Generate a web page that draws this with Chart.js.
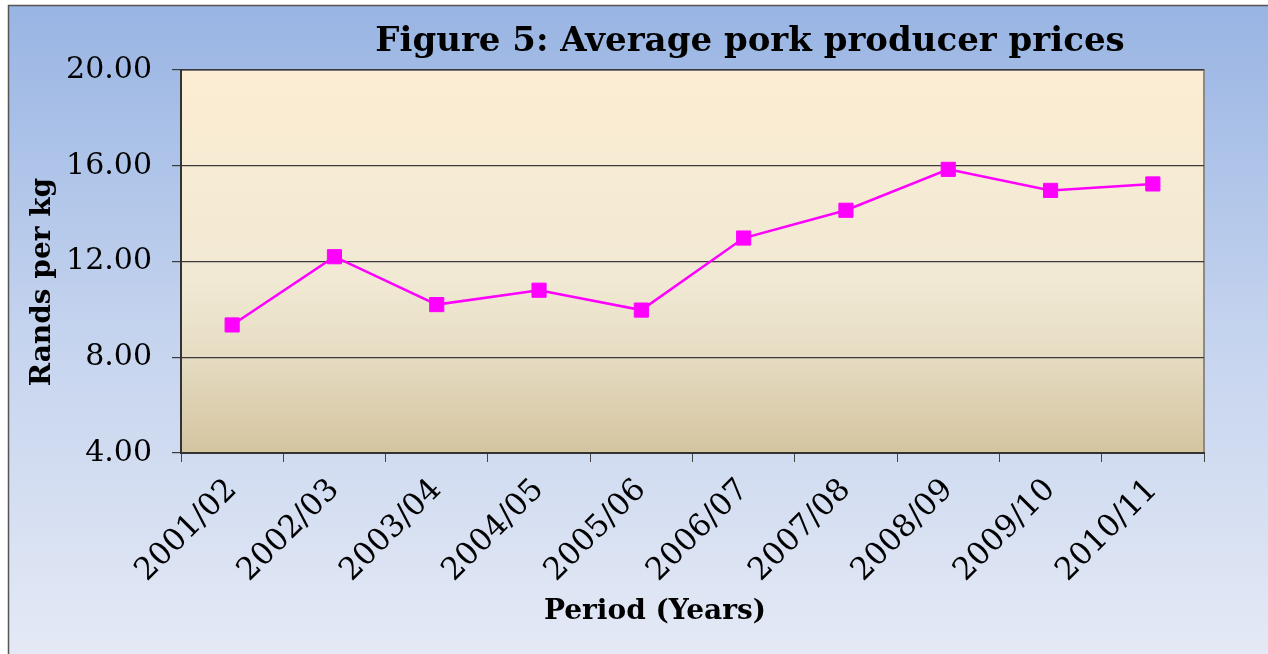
<!DOCTYPE html>
<html>
<head>
<meta charset="utf-8">
<script src="https://cdn.jsdelivr.net/npm/chart.js@4/dist/chart.umd.min.js"></script>
<style>
html,body{margin:0;padding:0;background:#fff;}
#wrap{width:1268px;height:654px;position:relative;}
</style>
</head>
<body>
<div id="wrap"><canvas id="c" width="1268" height="654"></canvas></div>
<script>
const categories = ["2001/02","2002/03","2003/04","2004/05","2005/06","2006/07","2007/08","2008/09","2009/10","2010/11"];
const prices = [9.35, 12.2, 10.2, 10.8, 9.97, 12.98, 14.14, 15.85, 14.97, 15.24];
const yTicks = [4, 8, 12, 16, 20];
const titleText = "Figure 5: Average pork producer prices";
const xTitleText = "Period (Years)";
const yTitleText = "Rands per kg";

const SERIF = '"DejaVu Serif", "Liberation Serif", serif';

const decor = {
  id: 'decor',
  beforeDraw(chart) {
    const ctx = chart.ctx, W = chart.width, H = chart.height;
    ctx.save();
    let g = ctx.createLinearGradient(0, 0, 0, H);
    g.addColorStop(0, '#98b4e3');
    g.addColorStop(0.5, '#c4d3ee');
    g.addColorStop(1, '#e4e9f5');
    ctx.fillStyle = '#ffffff';
    ctx.fillRect(0, 0, W, H);
    ctx.fillStyle = g;
    ctx.fillRect(8, 5, W - 8, H - 5);
    ctx.strokeStyle = '#555';
    ctx.lineWidth = 1.5;
    ctx.beginPath();
    ctx.moveTo(8.5, H); ctx.lineTo(8.5, 5.5); ctx.lineTo(W, 5.5);
    ctx.stroke();
    const a = chart.chartArea;
    g = ctx.createLinearGradient(0, a.top, 0, a.bottom);
    g.addColorStop(0, '#fcedd3');
    g.addColorStop(0.55, '#f1e9d4');
    g.addColorStop(0.75, '#e6dcc2');
    g.addColorStop(1, '#d4c4a0');
    ctx.fillStyle = g;
    ctx.fillRect(a.left, a.top, a.right - a.left, a.bottom - a.top);
    ctx.strokeStyle = '#8a8a8a';
    ctx.lineWidth = 2;
    ctx.beginPath();
    ctx.moveTo(a.left, a.top); ctx.lineTo(a.right, a.top); ctx.lineTo(a.right, a.bottom);
    ctx.stroke();
    ctx.restore();
  },
  afterDraw(chart) {
    const ctx = chart.ctx;
    ctx.save();
    ctx.fillStyle = '#000';
    ctx.textAlign = 'center';
    ctx.textBaseline = 'middle';
    ctx.font = 'bold 34px ' + SERIF;
    ctx.fillText(titleText, 750, 42);
    ctx.font = 'bold 28px ' + SERIF;
    ctx.fillText(xTitleText, 655, 612);
    ctx.translate(43, 282);
    ctx.rotate(-Math.PI / 2);
    ctx.fillText(yTitleText, 0, 0);
    ctx.restore();
  }
};

new Chart(document.getElementById('c'), {
  type: 'line',
  data: {
    labels: categories,
    datasets: [{
      data: prices,
      borderColor: '#ff00ff',
      backgroundColor: '#ff00ff',
      borderWidth: 2.5,
      pointStyle: 'rect',
      pointRadius: 10,
      pointBorderWidth: 1,
      pointBackgroundColor: '#ff00ff',
      pointBorderColor: '#ff00ff',
      tension: 0,
      fill: false
    }]
  },
  options: {
    responsive: false,
    animation: false,
    devicePixelRatio: 1,
    layout: { padding: { left: 8, top: 70, right: 64, bottom: 0 } },
    plugins: { legend: { display: false }, title: { display: false }, tooltip: { enabled: false } },
    scales: {
      x: {
        type: 'category',
        offset: true,
        afterFit(s) { s.height = 654 - 453; },
        grid: { offset: true, drawOnChartArea: false, drawTicks: true, tickLength: 9, color: '#444', lineWidth: 1 },
        border: { display: true, color: '#333', width: 2 },
        ticks: { minRotation: 45, maxRotation: 45, color: '#000', padding: 10, labelOffset: 0, font: { family: SERIF, size: 31 }, autoSkip: false }
      },
      y: {
        min: 4, max: 20,
        afterFit(s) { s.width = 181 - 8; },
        afterBuildTicks(s) { s.ticks = yTicks.map(v => ({ value: v })); },
        grid: { color: '#3a3a3a', lineWidth: 1.2, tickLength: 9, drawTicks: true },
        border: { display: true, color: '#333', width: 2 },
        ticks: { color: '#000', padding: 20, font: { family: SERIF, size: 30 }, callback: v => Number(v).toFixed(2) }
      }
    }
  },
  plugins: [decor]
});
</script>
</body>
</html>
